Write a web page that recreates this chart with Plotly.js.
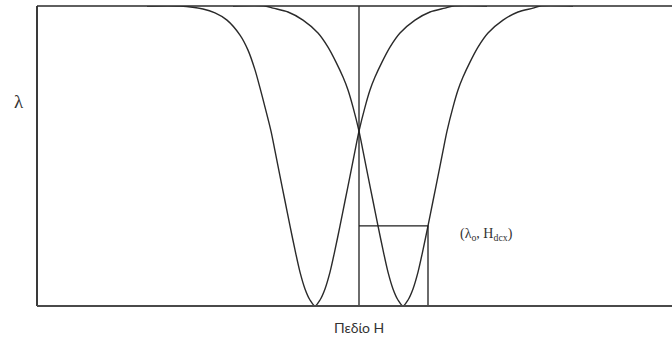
<!DOCTYPE html>
<html>
<head>
<meta charset="utf-8">
<script src="https://cdn.plot.ly/plotly-3.0.1.min.js"></script>
<style>
  html, body { margin: 0; padding: 0; background: #fff; }
  #chart { width: 672px; height: 340px; }
</style>
</head>
<body>
<div id="chart"></div>
<script>
// Left resonance dip: field H vs. λ (percent of full scale)
const leftH = [-212, -179, -156, -144, -132, -119, -111, -104, -99, -94, -88, -84, -79, -74, -69, -64, -59, -54, -49, -44,
               -39, -34, -29, -24, -19, -14, -9, -4, 0, 6, 11, 16, 23, 31, 41, 56, 71, 86, 94, 128];
const leftL = [100, 100, 99.0, 97.7, 95.3, 90.3, 85.3, 78.7, 72.7, 66.3, 58.3, 51.7, 43.3, 35.0, 26.7, 18.7, 11.3, 5.7, 2.0, 0,
               2.0, 5.7, 11.3, 18.7, 26.7, 35.0, 43.3, 51.7, 58.3, 66.3, 72.0, 76.3, 81.3, 86.3, 91.0, 95.3, 98.0, 99.3, 100, 100];

// Right resonance dip
const rightH = [-126, -94, -86, -71, -56, -41, -31, -23, -16, -11, -6, 0, 4, 9, 14, 19, 24, 29, 34, 39, 44,
                49, 54, 59, 64, 69, 74, 79, 84, 88, 94, 99, 104, 111, 119, 129, 144, 159, 174, 181, 214];
const rightL = [100, 100, 99.3, 98.0, 95.3, 91.0, 86.3, 81.3, 76.3, 72.0, 66.3, 58.3, 51.7, 43.3, 35.0, 26.7, 18.7, 11.3, 5.7, 2.0, 0,
                2.0, 5.7, 11.3, 18.7, 26.7, 35.0, 43.3, 51.7, 58.3, 66.3, 72.0, 76.3, 81.3, 86.3, 91.0, 95.3, 98.0, 99.3, 100, 100];

// Operating point (λo, Hdcx) on the right dip
const opH = 69;
const opL = 26.7;

// Zero-field marker and axis extents
const zeroH = 0;
const lMin = 0, lMax = 100;
const hMin = -322, hMax = 313;

const curveLine = { color: '#2a2a2a', width: 1.4, shape: 'spline', smoothing: 0.8 };
const guideLine = { color: '#1e1e1e', width: 1.3 };

const traces = [
  { x: leftH, y: leftL, mode: 'lines', line: curveLine, hoverinfo: 'skip' },
  { x: rightH, y: rightL, mode: 'lines', line: curveLine, hoverinfo: 'skip' },
  { x: [zeroH, zeroH], y: [lMin, lMax], mode: 'lines', line: guideLine, hoverinfo: 'skip' },
  { x: [zeroH, opH, opH], y: [opL, opL, lMin], mode: 'lines', line: guideLine, hoverinfo: 'skip' }
];

const layout = {
  width: 672,
  height: 340,
  margin: { l: 37, r: 0, t: 6, b: 34 },
  paper_bgcolor: '#ffffff',
  plot_bgcolor: '#ffffff',
  showlegend: false,
  xaxis: { range: [hMin, hMax], showgrid: false, zeroline: false, showticklabels: false, showline: false, ticks: '', fixedrange: true },
  yaxis: { range: [lMin, lMax], showgrid: false, zeroline: false, showticklabels: false, showline: false, ticks: '', fixedrange: true },
  shapes: [
    { type: 'line', xref: 'paper', yref: 'paper', x0: 0, x1: 0, y0: 0, y1: 1, line: { color: '#3a3a3a', width: 2 } },
    { type: 'line', xref: 'paper', yref: 'paper', x0: 0, x1: 1, y0: 1, y1: 1, line: { color: '#2a2a2a', width: 1.6 } },
    { type: 'line', xref: 'paper', yref: 'paper', x0: 0, x1: 1, y0: 0, y1: 0, line: { color: '#4a4a4a', width: 2.2 } }
  ],
  annotations: [
    { text: 'λ', xref: 'paper', yref: 'y', x: -0.028, y: 68.3, xanchor: 'center', yanchor: 'middle', showarrow: false,
      font: { family: 'Liberation Serif, DejaVu Serif, serif', size: 19, color: '#333' } },
    { text: '(λ<sub>o</sub>, H<sub>dcx</sub>)', xref: 'x', yref: 'y', x: 99, y: 24, xanchor: 'left', yanchor: 'middle', showarrow: false,
      font: { family: 'Liberation Serif, DejaVu Serif, serif', size: 14, color: '#333' } },
    { text: 'Πεδίο Η', xref: 'x', yref: 'paper', x: zeroH, y: -0.073, xanchor: 'center', yanchor: 'middle', showarrow: false,
      font: { family: 'Lato, Open Sans, sans-serif', size: 14, color: '#333' } }
  ]
};

Plotly.newPlot('chart', traces, layout, { staticPlot: true, displayModeBar: false });
</script>
</body>
</html>
